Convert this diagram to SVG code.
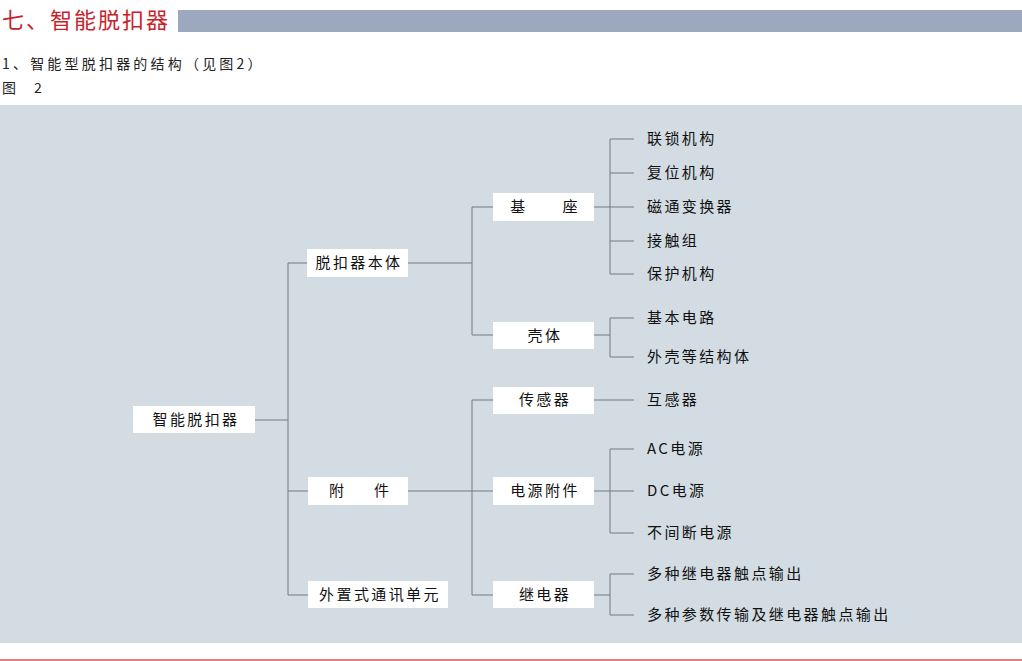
<svg xmlns="http://www.w3.org/2000/svg" width="1022" height="661" viewBox="0 0 1022 661">
<style>
.t{font-family:"Noto Sans CJK SC","Liberation Sans",sans-serif;font-size:15px;fill:#111;letter-spacing:2.4px;dominant-baseline:central}
.m{text-anchor:middle}
.box{fill:#ffffff}
.ln{stroke:#6f7a86;stroke-width:1;fill:none}
.h{font-family:"Noto Sans CJK SC","Liberation Sans",sans-serif;font-size:14px;fill:#222}
</style>
<rect width="1022" height="661" fill="#ffffff"/>
<g id="header">
<text x="2" y="28" style="font-family:'Noto Sans CJK SC','Liberation Sans',sans-serif;font-size:22px;fill:#c8232b;letter-spacing:2px">七、智能脱扣器</text>
<rect x="178" y="10" width="844" height="22" fill="#9ba8bd"/>
<text class="h" x="2" y="68.5" style="letter-spacing:3.2px">1、智能型脱扣器的结构（见图2）</text>
<text class="h" x="2" y="92.5">图</text>
<text class="h" x="34" y="92.5">2</text>
</g>
<rect id="panel" x="0" y="105" width="1022" height="538" fill="#d3dce3"/>
<line x1="0" y1="660" x2="1022" y2="660" stroke="#d9574f" stroke-width="1.5"/>
<g id="connectors" class="ln">
<path d="M255 420H288M288 263V595M288 263H307M288 491H308M288 595H308"/>
<path d="M408 263H472M472 207V335M472 207H493M472 335H493"/>
<path d="M408 491H493M472 400V595M472 400H493M472 595H493"/>
<path d="M594 207H610M610 139V274M610 139H634M610 173H634M610 207H634M610 241H634M610 274H634"/>
<path d="M594 335H610M610 318V357M610 318H634M610 357H634"/>
<path d="M594 400H634"/>
<path d="M594 491H610M610 449V533M610 449H634M610 491H634M610 533H634"/>
<path d="M594 595H610M610 574V615M610 574H634M610 615H634"/>
</g>
<g id="n-root"><rect class="box" x="133" y="406" width="122" height="27"/><text class="t m" x="196" y="418.5">智能脱扣器</text></g>
<g id="n-body"><rect class="box" x="307" y="249" width="101" height="28"/><text class="t m" x="359" y="261.5">脱扣器本体</text></g>
<g id="n-acc"><rect class="box" x="308" y="477" width="100" height="28"/><text class="t m" x="359" y="489.5" xml:space="preserve" style="letter-spacing:0">附　　件</text></g>
<g id="n-comm"><rect class="box" x="308" y="581" width="140" height="27"/><text class="t m" x="380" y="593.5">外置式通讯单元</text></g>
<g id="n-base"><rect class="box" x="493" y="193" width="101" height="28"/><text class="t m" x="545" y="205.5" xml:space="preserve">基　　座</text></g>
<g id="n-shell"><rect class="box" x="493" y="322" width="101" height="27"/><text class="t m" x="545" y="334.5">壳体</text></g>
<g id="n-sensor"><rect class="box" x="493" y="387" width="101" height="27"/><text class="t m" x="545" y="398.5">传感器</text></g>
<g id="n-power"><rect class="box" x="493" y="477" width="101" height="28"/><text class="t m" x="545" y="489.5">电源附件</text></g>
<g id="n-relay"><rect class="box" x="493" y="581" width="101" height="27"/><text class="t m" x="545" y="593.5">继电器</text></g>
<g id="leaves">
<g id="l1"><text class="t" x="647" y="137.5">联锁机构</text></g>
<g id="l2"><text class="t" x="647" y="171.5">复位机构</text></g>
<g id="l3"><text class="t" x="647" y="205.5">磁通变换器</text></g>
<g id="l4"><text class="t" x="647" y="239.5">接触组</text></g>
<g id="l5"><text class="t" x="647" y="272.5">保护机构</text></g>
<g id="l6"><text class="t" x="647" y="316.5">基本电路</text></g>
<g id="l7"><text class="t" x="647" y="355.5">外壳等结构体</text></g>
<g id="l8"><text class="t" x="647" y="398.5">互感器</text></g>
<g id="l9"><text class="t" x="647" y="447.5">AC电源</text></g>
<g id="l10"><text class="t" x="647" y="489.5">DC电源</text></g>
<g id="l11"><text class="t" x="647" y="531.5">不间断电源</text></g>
<g id="l12"><text class="t" x="647" y="572.5">多种继电器触点输出</text></g>
<g id="l13"><text class="t" x="647" y="613.5">多种参数传输及继电器触点输出</text></g>
</g>
</svg>
